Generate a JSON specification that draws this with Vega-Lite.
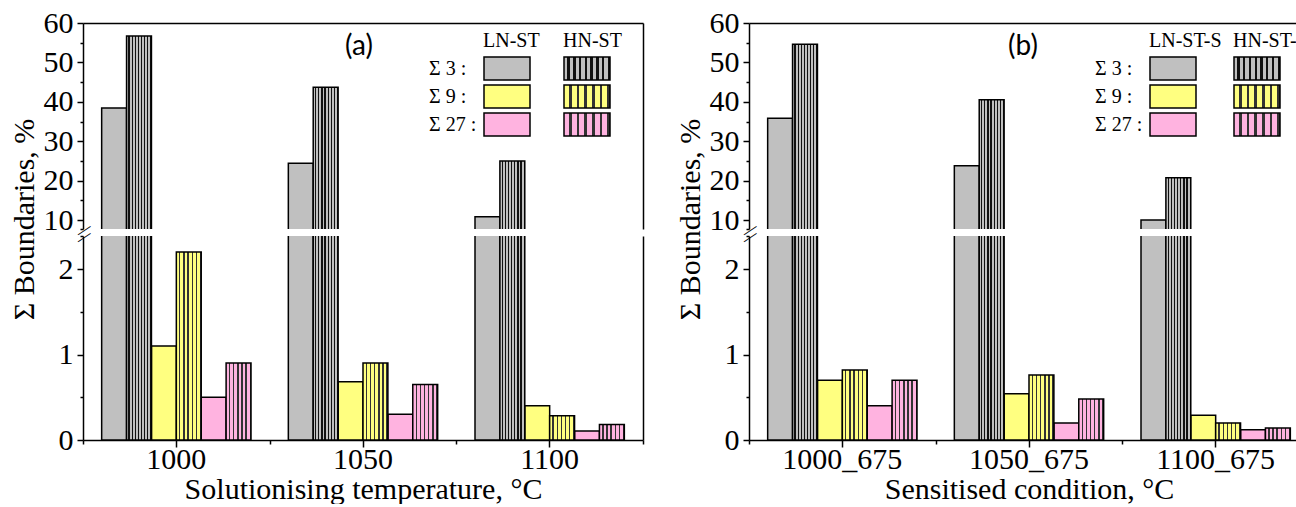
{
  "$schema": "https://vega.github.io/schema/vega-lite/v6.json",
  "background": "white",
  "padding": {"left": 9, "top": 8, "right": 0, "bottom": 0},
  "config": {
    "view": {"stroke": null},
    "axis": {"labelFont": "Liberation Serif", "labelFontSize": 30, "labelColor": "black", "titleFont": "Liberation Serif", "titleFontSize": 30, "titleFontWeight": "normal", "titleColor": "black", "domainColor": "black", "domainWidth": 1.5, "tickColor": "black", "tickWidth": 1.5, "grid": false, "labelOverlap": false, "labelFlush": false},
    "legend": {"labelFont": "Liberation Serif", "labelFontSize": 20, "labelColor": "black", "titleFont": "Liberation Serif", "titleFontSize": 20, "titleFontWeight": "normal", "titleColor": "black", "padding": 0, "symbolType": "M-1,-1H3V1H-1Z", "symbolSize": 529, "symbolStrokeColor": "black", "symbolStrokeWidth": 1.5, "symbolOpacity": 1, "rowPadding": -1, "titlePadding": 5, "orient": "none"}
  },
  "data": {"values": [
    {"panel": "a", "cond": "1000", "alloy": "LN", "sigma": "Σ 3", "series": "LN Σ 3", "value": 38.4},
    {"panel": "a", "cond": "1000", "alloy": "HN", "sigma": "Σ 3", "series": "HN Σ 3", "value": 56.7},
    {"panel": "a", "cond": "1000", "alloy": "LN", "sigma": "Σ 9", "series": "LN Σ 9", "value": 1.10},
    {"panel": "a", "cond": "1000", "alloy": "HN", "sigma": "Σ 9", "series": "HN Σ 9", "value": 2.20},
    {"panel": "a", "cond": "1000", "alloy": "LN", "sigma": "Σ 27", "series": "LN Σ 27", "value": 0.50},
    {"panel": "a", "cond": "1000", "alloy": "HN", "sigma": "Σ 27", "series": "HN Σ 27", "value": 0.90},
    {"panel": "a", "cond": "1050", "alloy": "LN", "sigma": "Σ 3", "series": "LN Σ 3", "value": 24.4},
    {"panel": "a", "cond": "1050", "alloy": "HN", "sigma": "Σ 3", "series": "HN Σ 3", "value": 43.7},
    {"panel": "a", "cond": "1050", "alloy": "LN", "sigma": "Σ 9", "series": "LN Σ 9", "value": 0.68},
    {"panel": "a", "cond": "1050", "alloy": "HN", "sigma": "Σ 9", "series": "HN Σ 9", "value": 0.90},
    {"panel": "a", "cond": "1050", "alloy": "LN", "sigma": "Σ 27", "series": "LN Σ 27", "value": 0.30},
    {"panel": "a", "cond": "1050", "alloy": "HN", "sigma": "Σ 27", "series": "HN Σ 27", "value": 0.65},
    {"panel": "a", "cond": "1100", "alloy": "LN", "sigma": "Σ 3", "series": "LN Σ 3", "value": 10.8},
    {"panel": "a", "cond": "1100", "alloy": "HN", "sigma": "Σ 3", "series": "HN Σ 3", "value": 25.0},
    {"panel": "a", "cond": "1100", "alloy": "LN", "sigma": "Σ 9", "series": "LN Σ 9", "value": 0.40},
    {"panel": "a", "cond": "1100", "alloy": "HN", "sigma": "Σ 9", "series": "HN Σ 9", "value": 0.285},
    {"panel": "a", "cond": "1100", "alloy": "LN", "sigma": "Σ 27", "series": "LN Σ 27", "value": 0.105},
    {"panel": "a", "cond": "1100", "alloy": "HN", "sigma": "Σ 27", "series": "HN Σ 27", "value": 0.18},
    {"panel": "b", "cond": "1000_675", "alloy": "LN", "sigma": "Σ 3", "series": "LN Σ 3", "value": 35.8},
    {"panel": "b", "cond": "1000_675", "alloy": "HN", "sigma": "Σ 3", "series": "HN Σ 3", "value": 54.6},
    {"panel": "b", "cond": "1000_675", "alloy": "LN", "sigma": "Σ 9", "series": "LN Σ 9", "value": 0.70},
    {"panel": "b", "cond": "1000_675", "alloy": "HN", "sigma": "Σ 9", "series": "HN Σ 9", "value": 0.82},
    {"panel": "b", "cond": "1000_675", "alloy": "LN", "sigma": "Σ 27", "series": "LN Σ 27", "value": 0.40},
    {"panel": "b", "cond": "1000_675", "alloy": "HN", "sigma": "Σ 27", "series": "HN Σ 27", "value": 0.70},
    {"panel": "b", "cond": "1050_675", "alloy": "LN", "sigma": "Σ 3", "series": "LN Σ 3", "value": 23.8},
    {"panel": "b", "cond": "1050_675", "alloy": "HN", "sigma": "Σ 3", "series": "HN Σ 3", "value": 40.5},
    {"panel": "b", "cond": "1050_675", "alloy": "LN", "sigma": "Σ 9", "series": "LN Σ 9", "value": 0.54},
    {"panel": "b", "cond": "1050_675", "alloy": "HN", "sigma": "Σ 9", "series": "HN Σ 9", "value": 0.76},
    {"panel": "b", "cond": "1050_675", "alloy": "LN", "sigma": "Σ 27", "series": "LN Σ 27", "value": 0.20},
    {"panel": "b", "cond": "1050_675", "alloy": "HN", "sigma": "Σ 27", "series": "HN Σ 27", "value": 0.48},
    {"panel": "b", "cond": "1100_675", "alloy": "LN", "sigma": "Σ 3", "series": "LN Σ 3", "value": 10.0},
    {"panel": "b", "cond": "1100_675", "alloy": "HN", "sigma": "Σ 3", "series": "HN Σ 3", "value": 20.7},
    {"panel": "b", "cond": "1100_675", "alloy": "LN", "sigma": "Σ 9", "series": "LN Σ 9", "value": 0.29},
    {"panel": "b", "cond": "1100_675", "alloy": "HN", "sigma": "Σ 9", "series": "HN Σ 9", "value": 0.20},
    {"panel": "b", "cond": "1100_675", "alloy": "LN", "sigma": "Σ 27", "series": "LN Σ 27", "value": 0.12},
    {"panel": "b", "cond": "1100_675", "alloy": "HN", "sigma": "Σ 27", "series": "HN Σ 27", "value": 0.14}
  ]},
  "spacing": 31,
  "resolve": {"scale": {"fill": "independent", "color": "independent"}, "legend": {"fill": "independent", "color": "independent"}},
  "hconcat": [
    {
      "transform": [{"filter": "datum.panel == 'a'"}],
      "spacing": 7,
      "bounds": "flush",
      "vconcat": [
        {
          "width": 560, "height": 206,
          "title": {"text": "(a)", "font": "Lato", "fontSize": 28, "fontWeight": "normal", "color": "black", "anchor": "middle", "offset": -53, "dx": -4},
          "layer": [
            {
              "transform": [{"filter": "datum.alloy == 'LN'"}],
              "mark": {"type": "bar", "clip": true, "stroke": "black", "strokeWidth": 1.5},
              "encoding": {
                "x": {"field": "cond", "type": "nominal", "sort": null, "scale": {"paddingInner": 0, "paddingOuter": 0}, "axis": {"orient": "top", "title": null, "labels": false, "ticks": false}},
                "xOffset": {"field": "series", "type": "nominal", "scale": {"domain": ["LN Σ 3", "HN Σ 3", "LN Σ 9", "HN Σ 9", "LN Σ 27", "HN Σ 27"], "paddingInner": 0, "paddingOuter": 0.75}},
                "y": {"field": "value", "type": "quantitative", "scale": {"domain": [7.72, 60], "zero": false, "nice": false}, "axis": {"orient": "left", "values": [10, 20, 30, 40, 50, 60], "tickSize": 6, "labelPadding": 4, "title": "Σ Boundaries, %", "titleY": 196, "titlePadding": 4}},
                "fill": {"field": "sigma", "type": "nominal", "scale": {"domain": ["Σ 3", "Σ 9", "Σ 27"], "range": ["#c0c0c0", "#ffff80", "#ffb3e0"]}, "legend": {"title": "LN-ST", "legendX": 400, "legendY": 8, "labelOffset": -79, "labelExpr": "datum.label + ' :'"}}
              }
            },
            {
              "transform": [{"filter": "datum.alloy == 'HN'"}],
              "mark": {"type": "bar", "clip": true, "stroke": "black", "strokeWidth": 1.5},
              "encoding": {
                "x": {"field": "cond", "type": "nominal", "sort": null, "axis": null},
                "xOffset": {"field": "series", "type": "nominal"},
                "y": {"field": "value", "type": "quantitative", "axis": {"orient": "left", "values": [7.72, 15, 25, 35, 45, 55], "tickSize": 3, "domain": false, "title": null, "labelExpr": "datum.value < 10 ? '—' : ''", "labelAngle": -34, "labelAlign": "center", "labelBaseline": "middle", "labelPadding": -3, "labelFontSize": 15}},
                "color": {"field": "series", "type": "nominal", "scale": {"domain": ["HN Σ 3", "HN Σ 9", "HN Σ 27"], "range": [
                  {"expr": "{gradient:'linear',x1:0,y1:0,x2:1,y2:0,stops:[{offset:0,color:'#c0c0c0'},{offset:0.075,color:'#c0c0c0'},{offset:0.075,color:'#111'},{offset:0.125,color:'#111'},{offset:0.125,color:'#c0c0c0'},{offset:0.2,color:'#c0c0c0'},{offset:0.2,color:'#111'},{offset:0.25,color:'#111'},{offset:0.25,color:'#c0c0c0'},{offset:0.325,color:'#c0c0c0'},{offset:0.325,color:'#111'},{offset:0.375,color:'#111'},{offset:0.375,color:'#c0c0c0'},{offset:0.45,color:'#c0c0c0'},{offset:0.45,color:'#111'},{offset:0.5,color:'#111'},{offset:0.5,color:'#c0c0c0'},{offset:0.575,color:'#c0c0c0'},{offset:0.575,color:'#111'},{offset:0.625,color:'#111'},{offset:0.625,color:'#c0c0c0'},{offset:0.7,color:'#c0c0c0'},{offset:0.7,color:'#111'},{offset:0.75,color:'#111'},{offset:0.75,color:'#c0c0c0'},{offset:0.825,color:'#c0c0c0'},{offset:0.825,color:'#111'},{offset:0.875,color:'#111'},{offset:0.875,color:'#c0c0c0'},{offset:0.95,color:'#c0c0c0'},{offset:0.95,color:'#111'},{offset:1,color:'#111'}]}"},
                  {"expr": "{gradient:'linear',x1:0,y1:0,x2:1,y2:0,stops:[{offset:0,color:'#ffff80'},{offset:0.11,color:'#ffff80'},{offset:0.11,color:'#333'},{offset:0.1667,color:'#333'},{offset:0.1667,color:'#ffff80'},{offset:0.2767,color:'#ffff80'},{offset:0.2767,color:'#333'},{offset:0.3333,color:'#333'},{offset:0.3333,color:'#ffff80'},{offset:0.4433,color:'#ffff80'},{offset:0.4433,color:'#333'},{offset:0.5,color:'#333'},{offset:0.5,color:'#ffff80'},{offset:0.61,color:'#ffff80'},{offset:0.61,color:'#333'},{offset:0.6667,color:'#333'},{offset:0.6667,color:'#ffff80'},{offset:0.7767,color:'#ffff80'},{offset:0.7767,color:'#333'},{offset:0.8333,color:'#333'},{offset:0.8333,color:'#ffff80'},{offset:0.9433,color:'#ffff80'},{offset:0.9433,color:'#333'},{offset:1,color:'#333'}]}"},
                  {"expr": "{gradient:'linear',x1:0,y1:0,x2:1,y2:0,stops:[{offset:0,color:'#ffb3e0'},{offset:0.11,color:'#ffb3e0'},{offset:0.11,color:'#333'},{offset:0.1667,color:'#333'},{offset:0.1667,color:'#ffb3e0'},{offset:0.2767,color:'#ffb3e0'},{offset:0.2767,color:'#333'},{offset:0.3333,color:'#333'},{offset:0.3333,color:'#ffb3e0'},{offset:0.4433,color:'#ffb3e0'},{offset:0.4433,color:'#333'},{offset:0.5,color:'#333'},{offset:0.5,color:'#ffb3e0'},{offset:0.61,color:'#ffb3e0'},{offset:0.61,color:'#333'},{offset:0.6667,color:'#333'},{offset:0.6667,color:'#ffb3e0'},{offset:0.7767,color:'#ffb3e0'},{offset:0.7767,color:'#333'},{offset:0.8333,color:'#333'},{offset:0.8333,color:'#ffb3e0'},{offset:0.9433,color:'#ffb3e0'},{offset:0.9433,color:'#333'},{offset:1,color:'#333'}]}"}
                ]}, "legend": {"title": "HN-ST", "legendX": 480, "legendY": 8, "labelExpr": "''"}}
              }
            },
            {
              "mark": {"type": "bar", "clip": true, "opacity": 0},
              "encoding": {
                "x": {"field": "cond", "type": "nominal", "sort": null, "axis": null},
                "xOffset": {"field": "series", "type": "nominal"},
                "y": {"field": "value", "type": "quantitative", "axis": {"orient": "right", "ticks": false, "labels": false, "title": null}}
              }
            }
          ],
          "resolve": {"axis": {"x": "independent", "y": "independent"}}
        },
        {
          "width": 560, "height": 204,
          "layer": [
            {
              "transform": [{"filter": "datum.alloy == 'LN'"}],
              "mark": {"type": "bar", "clip": true, "stroke": "black", "strokeWidth": 1.5},
              "encoding": {
                "x": {"field": "cond", "type": "nominal", "sort": null, "scale": {"paddingInner": 0, "paddingOuter": 0}, "axis": {"orient": "bottom", "title": "Solutionising temperature, °C", "labelAngle": 0, "labelPadding": -3, "tickSize": 7, "titlePadding": 0}},
                "xOffset": {"field": "series", "type": "nominal", "scale": {"domain": ["LN Σ 3", "HN Σ 3", "LN Σ 9", "HN Σ 9", "LN Σ 27", "HN Σ 27"], "paddingInner": 0, "paddingOuter": 0.75}},
                "y": {"field": "value", "type": "quantitative", "scale": {"domain": [0, 2.386], "nice": false}, "axis": {"orient": "left", "values": [0, 1, 2], "tickSize": 6, "labelPadding": 4, "title": null}},
                "fill": {"field": "sigma", "type": "nominal", "legend": null}
              }
            },
            {
              "transform": [{"filter": "datum.alloy == 'HN'"}],
              "mark": {"type": "bar", "clip": true, "stroke": "black", "strokeWidth": 1.5},
              "encoding": {
                "x": {"field": "cond", "type": "nominal", "sort": null, "axis": {"orient": "bottom", "tickBand": "extent", "tickSize": 4, "labels": false, "domain": false, "title": null}},
                "xOffset": {"field": "series", "type": "nominal"},
                "y": {"field": "value", "type": "quantitative", "axis": {"orient": "left", "values": [0.5, 1.5, 2.386], "tickSize": 3, "domain": false, "title": null, "labelExpr": "datum.value > 2 ? '—' : ''", "labelAngle": -34, "labelAlign": "center", "labelBaseline": "middle", "labelPadding": -3, "labelFontSize": 15}},
                "color": {"field": "series", "type": "nominal", "legend": null}
              }
            },
            {
              "mark": {"type": "bar", "clip": true, "opacity": 0},
              "encoding": {
                "x": {"field": "cond", "type": "nominal", "sort": null, "axis": null},
                "xOffset": {"field": "series", "type": "nominal"},
                "y": {"field": "value", "type": "quantitative", "axis": {"orient": "right", "ticks": false, "labels": false, "title": null}}
              }
            }
          ],
          "resolve": {"axis": {"x": "independent", "y": "independent"}}
        }
      ]
    },
    {
      "transform": [{"filter": "datum.panel == 'b'"}],
      "spacing": 7,
      "bounds": "flush",
      "vconcat": [
        {
          "width": 560, "height": 206,
          "title": {"text": "(b)", "font": "Lato", "fontSize": 28, "fontWeight": "normal", "color": "black", "anchor": "middle", "offset": -53, "dx": -6},
          "layer": [
            {
              "transform": [{"filter": "datum.alloy == 'LN'"}],
              "mark": {"type": "bar", "clip": true, "stroke": "black", "strokeWidth": 1.5},
              "encoding": {
                "x": {"field": "cond", "type": "nominal", "sort": null, "scale": {"paddingInner": 0, "paddingOuter": 0}, "axis": {"orient": "top", "title": null, "labels": false, "ticks": false}},
                "xOffset": {"field": "series", "type": "nominal", "scale": {"domain": ["LN Σ 3", "HN Σ 3", "LN Σ 9", "HN Σ 9", "LN Σ 27", "HN Σ 27"], "paddingInner": 0, "paddingOuter": 0.75}},
                "y": {"field": "value", "type": "quantitative", "scale": {"domain": [7.72, 60], "zero": false, "nice": false}, "axis": {"orient": "left", "values": [10, 20, 30, 40, 50, 60], "tickSize": 6, "labelPadding": 4, "title": "Σ Boundaries, %", "titleY": 196, "titlePadding": 4}},
                "fill": {"field": "sigma", "type": "nominal", "scale": {"domain": ["Σ 3", "Σ 9", "Σ 27"], "range": ["#c0c0c0", "#ffff80", "#ffb3e0"]}, "legend": {"title": "LN-ST-S", "legendX": 400, "legendY": 8, "labelOffset": -79, "labelExpr": "datum.label + ' :'"}}
              }
            },
            {
              "transform": [{"filter": "datum.alloy == 'HN'"}],
              "mark": {"type": "bar", "clip": true, "stroke": "black", "strokeWidth": 1.5},
              "encoding": {
                "x": {"field": "cond", "type": "nominal", "sort": null, "axis": null},
                "xOffset": {"field": "series", "type": "nominal"},
                "y": {"field": "value", "type": "quantitative", "axis": {"orient": "left", "values": [7.72, 15, 25, 35, 45, 55], "tickSize": 3, "domain": false, "title": null, "labelExpr": "datum.value < 10 ? '—' : ''", "labelAngle": -34, "labelAlign": "center", "labelBaseline": "middle", "labelPadding": -3, "labelFontSize": 15}},
                "color": {"field": "series", "type": "nominal", "scale": {"domain": ["HN Σ 3", "HN Σ 9", "HN Σ 27"], "range": [
                  {"expr": "{gradient:'linear',x1:0,y1:0,x2:1,y2:0,stops:[{offset:0,color:'#c0c0c0'},{offset:0.075,color:'#c0c0c0'},{offset:0.075,color:'#111'},{offset:0.125,color:'#111'},{offset:0.125,color:'#c0c0c0'},{offset:0.2,color:'#c0c0c0'},{offset:0.2,color:'#111'},{offset:0.25,color:'#111'},{offset:0.25,color:'#c0c0c0'},{offset:0.325,color:'#c0c0c0'},{offset:0.325,color:'#111'},{offset:0.375,color:'#111'},{offset:0.375,color:'#c0c0c0'},{offset:0.45,color:'#c0c0c0'},{offset:0.45,color:'#111'},{offset:0.5,color:'#111'},{offset:0.5,color:'#c0c0c0'},{offset:0.575,color:'#c0c0c0'},{offset:0.575,color:'#111'},{offset:0.625,color:'#111'},{offset:0.625,color:'#c0c0c0'},{offset:0.7,color:'#c0c0c0'},{offset:0.7,color:'#111'},{offset:0.75,color:'#111'},{offset:0.75,color:'#c0c0c0'},{offset:0.825,color:'#c0c0c0'},{offset:0.825,color:'#111'},{offset:0.875,color:'#111'},{offset:0.875,color:'#c0c0c0'},{offset:0.95,color:'#c0c0c0'},{offset:0.95,color:'#111'},{offset:1,color:'#111'}]}"},
                  {"expr": "{gradient:'linear',x1:0,y1:0,x2:1,y2:0,stops:[{offset:0,color:'#ffff80'},{offset:0.11,color:'#ffff80'},{offset:0.11,color:'#333'},{offset:0.1667,color:'#333'},{offset:0.1667,color:'#ffff80'},{offset:0.2767,color:'#ffff80'},{offset:0.2767,color:'#333'},{offset:0.3333,color:'#333'},{offset:0.3333,color:'#ffff80'},{offset:0.4433,color:'#ffff80'},{offset:0.4433,color:'#333'},{offset:0.5,color:'#333'},{offset:0.5,color:'#ffff80'},{offset:0.61,color:'#ffff80'},{offset:0.61,color:'#333'},{offset:0.6667,color:'#333'},{offset:0.6667,color:'#ffff80'},{offset:0.7767,color:'#ffff80'},{offset:0.7767,color:'#333'},{offset:0.8333,color:'#333'},{offset:0.8333,color:'#ffff80'},{offset:0.9433,color:'#ffff80'},{offset:0.9433,color:'#333'},{offset:1,color:'#333'}]}"},
                  {"expr": "{gradient:'linear',x1:0,y1:0,x2:1,y2:0,stops:[{offset:0,color:'#ffb3e0'},{offset:0.11,color:'#ffb3e0'},{offset:0.11,color:'#333'},{offset:0.1667,color:'#333'},{offset:0.1667,color:'#ffb3e0'},{offset:0.2767,color:'#ffb3e0'},{offset:0.2767,color:'#333'},{offset:0.3333,color:'#333'},{offset:0.3333,color:'#ffb3e0'},{offset:0.4433,color:'#ffb3e0'},{offset:0.4433,color:'#333'},{offset:0.5,color:'#333'},{offset:0.5,color:'#ffb3e0'},{offset:0.61,color:'#ffb3e0'},{offset:0.61,color:'#333'},{offset:0.6667,color:'#333'},{offset:0.6667,color:'#ffb3e0'},{offset:0.7767,color:'#ffb3e0'},{offset:0.7767,color:'#333'},{offset:0.8333,color:'#333'},{offset:0.8333,color:'#ffb3e0'},{offset:0.9433,color:'#ffb3e0'},{offset:0.9433,color:'#333'},{offset:1,color:'#333'}]}"}
                ]}, "legend": {"title": "HN-ST-S", "legendX": 484, "legendY": 8, "labelExpr": "''"}}
              }
            },
            {
              "mark": {"type": "bar", "clip": true, "opacity": 0},
              "encoding": {
                "x": {"field": "cond", "type": "nominal", "sort": null, "axis": null},
                "xOffset": {"field": "series", "type": "nominal"},
                "y": {"field": "value", "type": "quantitative", "axis": {"orient": "right", "ticks": false, "labels": false, "title": null}}
              }
            }
          ],
          "resolve": {"axis": {"x": "independent", "y": "independent"}}
        },
        {
          "width": 560, "height": 204,
          "layer": [
            {
              "transform": [{"filter": "datum.alloy == 'LN'"}],
              "mark": {"type": "bar", "clip": true, "stroke": "black", "strokeWidth": 1.5},
              "encoding": {
                "x": {"field": "cond", "type": "nominal", "sort": null, "scale": {"paddingInner": 0, "paddingOuter": 0}, "axis": {"orient": "bottom", "title": "Sensitised condition, °C", "labelAngle": 0, "labelPadding": -3, "tickSize": 7, "titlePadding": 0}},
                "xOffset": {"field": "series", "type": "nominal", "scale": {"domain": ["LN Σ 3", "HN Σ 3", "LN Σ 9", "HN Σ 9", "LN Σ 27", "HN Σ 27"], "paddingInner": 0, "paddingOuter": 0.75}},
                "y": {"field": "value", "type": "quantitative", "scale": {"domain": [0, 2.386], "nice": false}, "axis": {"orient": "left", "values": [0, 1, 2], "tickSize": 6, "labelPadding": 4, "title": null}},
                "fill": {"field": "sigma", "type": "nominal", "legend": null}
              }
            },
            {
              "transform": [{"filter": "datum.alloy == 'HN'"}],
              "mark": {"type": "bar", "clip": true, "stroke": "black", "strokeWidth": 1.5},
              "encoding": {
                "x": {"field": "cond", "type": "nominal", "sort": null, "axis": {"orient": "bottom", "tickBand": "extent", "tickSize": 4, "labels": false, "domain": false, "title": null}},
                "xOffset": {"field": "series", "type": "nominal"},
                "y": {"field": "value", "type": "quantitative", "axis": {"orient": "left", "values": [0.5, 1.5, 2.386], "tickSize": 3, "domain": false, "title": null, "labelExpr": "datum.value > 2 ? '—' : ''", "labelAngle": -34, "labelAlign": "center", "labelBaseline": "middle", "labelPadding": -3, "labelFontSize": 15}},
                "color": {"field": "series", "type": "nominal", "legend": null}
              }
            },
            {
              "mark": {"type": "bar", "clip": true, "opacity": 0},
              "encoding": {
                "x": {"field": "cond", "type": "nominal", "sort": null, "axis": null},
                "xOffset": {"field": "series", "type": "nominal"},
                "y": {"field": "value", "type": "quantitative", "axis": {"orient": "right", "ticks": false, "labels": false, "title": null}}
              }
            }
          ],
          "resolve": {"axis": {"x": "independent", "y": "independent"}}
        }
      ]
    }
  ]
}
